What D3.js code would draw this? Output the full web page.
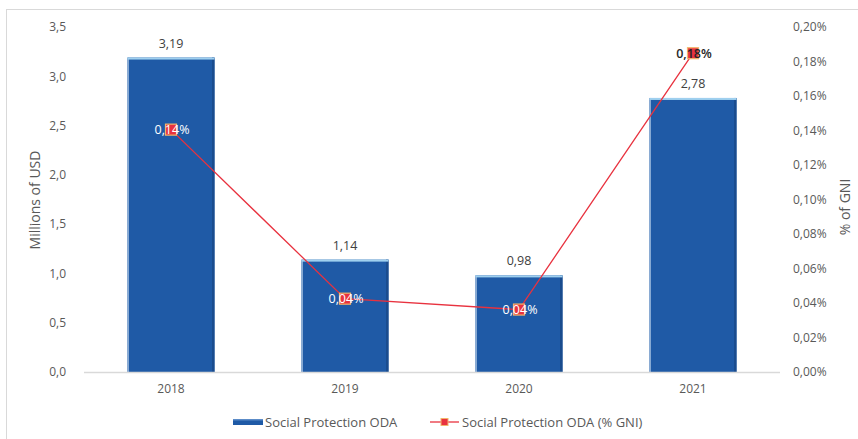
<!DOCTYPE html>
<html>
<head>
<meta charset="utf-8">
<script src="https://cdn.jsdelivr.net/npm/d3@7"></script>
<style>
  html, body { margin: 0; padding: 0; background: #fff; }
  svg { display: block; font-family: "Open Sans", "Noto Sans", sans-serif; }
</style>
</head>
<body>
<svg id="chart" width="858" height="439"></svg>
<script>
// Social protection ODA by year
const years = ["2018", "2019", "2020", "2021"];
const odaMillions = [3.19, 1.14, 0.98, 2.78];
const odaPctGni = [0.1405, 0.0425, 0.0362, 0.1848];
const leftTicks = [0, 0.5, 1.0, 1.5, 2.0, 2.5, 3.0, 3.5];
const rightTicks = [0, 0.02, 0.04, 0.06, 0.08, 0.10, 0.12, 0.14, 0.16, 0.18, 0.20];
const seriesNames = ["Social Protection ODA", "Social Protection ODA (% GNI)"];
const axisTitles = ["Millions of USD", "% of GNI"];

const locale = d3.formatLocale({ decimal: ",", thousands: ".", grouping: [3], currency: ["", ""] });
const f1 = locale.format(".1f");
const f2 = locale.format(".2f");

const svg = d3.select("#chart");
const W = 858, H = 439;

const plot = { left: 84, right: 780, top: 27, bottom: 372 };

const x = d3.scaleBand().domain(years).range([plot.left, plot.right])
  .paddingInner(0.5).paddingOuter(0.25);
const y = d3.scaleLinear().domain([0, 3.5]).range([plot.bottom, plot.top]);
const y2 = d3.scaleLinear().domain([0, 0.20]).range([plot.bottom, plot.top]);

// outer frame
svg.append("rect").attr("x", 6.5).attr("y", 9.5).attr("width", W).attr("height", H)
  .attr("fill", "none").attr("stroke", "#d9d9d9").attr("stroke-width", 1);

const textCol = "#595959";

// left axis labels
const yAxis = d3.axisLeft(y).tickValues(leftTicks).tickFormat(f1).tickSize(0).tickPadding(0);
const gy = svg.append("g").attr("transform", `translate(${66},0)`).call(yAxis);
gy.select(".domain").remove();
gy.selectAll("text").attr("fill", textCol).style("font-size", "12px").style("font-family", "Open Sans");

// right axis labels
const yAxis2 = d3.axisRight(y2).tickValues(rightTicks).tickFormat(d => f2(d) + "%").tickSize(0).tickPadding(0);
const gy2 = svg.append("g").attr("transform", `translate(${793},0)`).call(yAxis2);
gy2.select(".domain").remove();
gy2.selectAll("text").attr("fill", textCol).style("font-size", "12px").style("font-family", "Open Sans");

// axis titles
svg.append("text").attr("transform", `translate(40,200) rotate(-90)`)
  .attr("text-anchor", "middle").attr("fill", textCol).style("font-size", "14px")
  .text(axisTitles[0]);
svg.append("text").attr("transform", `translate(850,207) rotate(-90)`)
  .attr("text-anchor", "middle").attr("fill", textCol).style("font-size", "14px")
  .text(axisTitles[1]);

// bars with bevelled edges
const barFill = "#1f5aa6";
const bars = svg.append("g");
years.forEach((yr, i) => {
  const bx = x(yr), bw = x.bandwidth();
  const top = y(odaMillions[i]), bot = y(0);
  const g = bars.append("g");
  g.append("rect").attr("x", bx).attr("y", top).attr("width", bw).attr("height", bot - top)
    .attr("fill", barFill);
  g.append("rect").attr("x", bx + bw - 2.5).attr("y", top).attr("width", 2.5).attr("height", bot - top)
    .attr("fill", "#1a4c8e");
  g.append("rect").attr("x", bx).attr("y", top).attr("width", 1.5).attr("height", bot - top)
    .attr("fill", "#86a9d3");
  g.append("rect").attr("x", bx).attr("y", top).attr("width", bw).attr("height", 2)
    .attr("fill", "#9fd0ef");
  // value label above the bar
  svg.append("text").attr("x", bx + bw / 2).attr("y", top - 10)
    .attr("text-anchor", "middle").attr("fill", "#404040").style("font-size", "12.5px")
    .text(f2(odaMillions[i]));
});

// x axis line and labels
svg.append("line").attr("x1", plot.left).attr("x2", plot.right)
  .attr("y1", plot.bottom + 0.5).attr("y2", plot.bottom + 0.5)
  .attr("stroke", "#d9d9d9").attr("stroke-width", 1.5);
const xAxis = d3.axisBottom(x).tickSize(0).tickPadding(12);
const gx = svg.append("g").attr("transform", `translate(0,${plot.bottom})`).call(xAxis);
gx.select(".domain").remove();
gx.selectAll("text").attr("fill", textCol).style("font-size", "12px").style("font-family", "Open Sans");

// % GNI line
const cx = yr => x(yr) + x.bandwidth() / 2;
const line = d3.line().x((d, i) => cx(years[i])).y(d => y2(d));
svg.append("path").datum(odaPctGni).attr("d", line)
  .attr("fill", "none").attr("stroke", "#e8323f").attr("stroke-width", 1.3);

const ms = 11;
svg.append("g").selectAll("rect").data(odaPctGni).join("rect")
  .attr("x", (d, i) => cx(years[i]) - ms / 2).attr("y", d => y2(d) - ms / 2)
  .attr("width", ms).attr("height", ms)
  .attr("fill", "#e8323f").attr("stroke", "#f2b56b").attr("stroke-width", 1.2);

svg.append("g").selectAll("text").data(odaPctGni).join("text")
  .attr("x", (d, i) => cx(years[i]) + 1).attr("y", d => y2(d) + 4.5)
  .attr("text-anchor", "middle")
  .attr("fill", (d, i) => y2(d) < y(odaMillions[i]) ? "#262626" : "#ffffff")
  .style("font-size", "12.5px")
  .style("font-weight", (d, i) => y2(d) < y(odaMillions[i]) ? "600" : "400")
  .text(d => f2(d) + "%");

// legend
const lg = svg.append("g");
lg.append("rect").attr("x", 233).attr("y", 419).attr("width", 30).attr("height", 6).attr("fill", "#1f5aa6");
lg.append("rect").attr("x", 233).attr("y", 419).attr("width", 30).attr("height", 1.5).attr("fill", "#5c8cc8");
lg.append("text").attr("x", 265).attr("y", 426.5).attr("fill", textCol).style("font-size", "13px").text(seriesNames[0]);
lg.append("line").attr("x1", 430).attr("x2", 459).attr("y1", 422).attr("y2", 422)
  .attr("stroke", "#e8323f").attr("stroke-width", 1.3);
lg.append("rect").attr("x", 441).attr("y", 418.5).attr("width", 7).attr("height", 7)
  .attr("fill", "#e8323f").attr("stroke", "#f2b56b").attr("stroke-width", 1);
lg.append("text").attr("x", 462).attr("y", 426.5).attr("fill", textCol).style("font-size", "13px").text(seriesNames[1]);
</script>
</body>
</html>
